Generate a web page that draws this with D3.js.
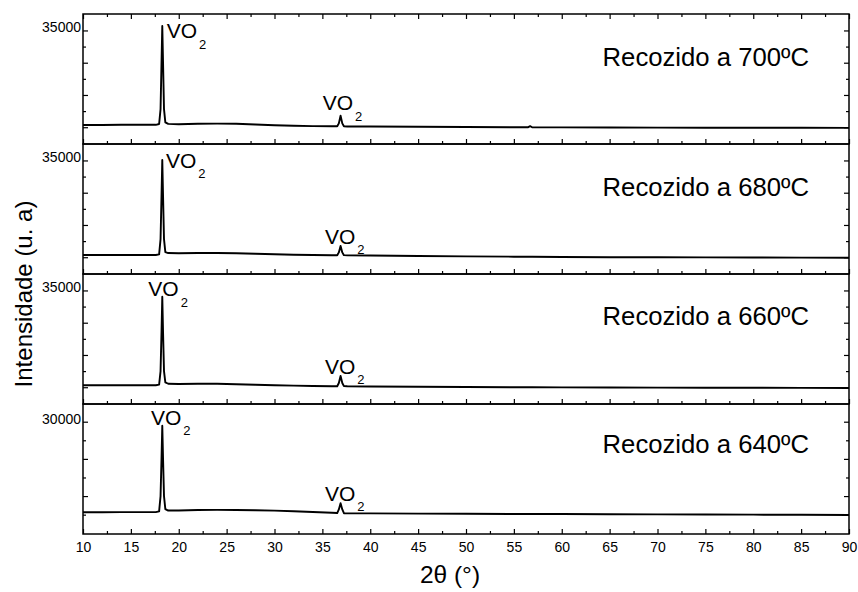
<!DOCTYPE html>
<html>
<head>
<meta charset="utf-8">
<script src="https://cdn.jsdelivr.net/npm/d3@7"></script>
<style>
  body { margin: 0; background: #fff; }
  svg { display: block; }
  text { font-family: Arial, "Liberation Sans", sans-serif; fill: #000; }
</style>
</head>
<body>
<svg id="chart" width="858" height="592"></svg>
<script>
// 2θ positions (degrees) shared by all four diffractograms
const twoTheta = [10, 12, 14, 16, 17.6, 17.95, 18.1, 18.2, 18.28, 18.36, 18.46, 18.6, 18.9,
  20, 22, 24, 26, 28, 30, 32, 34, 36, 36.55, 36.72, 36.9, 37.08, 37.25, 37.6,
  40, 45, 50, 55, 56.5, 56.7, 56.9, 60, 65, 70, 75, 80, 85, 90];

// Intensities (a.u.) for each annealing temperature
const int700 = [20345, 20345, 20376, 20376, 20376, 20500, 22800, 30000, 35690, 30000, 22800, 20750, 20520,
  20469, 20531, 20562, 20531, 20423, 20299, 20221, 20174, 20144, 20144, 20600, 21787, 20600, 20150, 20120,
  20113, 20066, 20035, 20004, 20004, 20160, 20000, 19973, 19958, 19942, 19927, 19911, 19911, 19896];
const int680 = [20345, 20345, 20345, 20345, 20345, 20450, 22800, 29500, 35070, 29500, 22800, 20800, 20650,
  20608, 20655, 20655, 20608, 20531, 20454, 20392, 20345, 20314, 20314, 20750, 21740, 20750, 20320, 20290,
  20268, 20190, 20128, 20082, 20075, 20075, 20070, 20035, 20004, 19989, 19973, 19958, 19942, 19927];
const int660 = [20299, 20299, 20299, 20299, 20299, 20400, 22500, 28500, 34032, 28500, 22500, 20750, 20540,
  20500, 20531, 20531, 20469, 20392, 20314, 20252, 20190, 20159, 20159, 20650, 21740, 20650, 20170, 20150,
  20113, 20066, 20035, 20004, 19995, 19995, 19990, 19973, 19958, 19942, 19927, 19911, 19896, 19880];
const int640 = [17824, 17824, 17840, 17840, 17840, 17950, 20000, 25000, 29464, 25000, 20000, 18250, 18050,
  18050, 18134, 18150, 18134, 18100, 18040, 17950, 17860, 17760, 17720, 18200, 19034, 18200, 17700, 17680,
  17670, 17645, 17620, 17596, 17590, 17590, 17585, 17580, 17560, 17540, 17520, 17500, 17480, 17462];

const seriesValues = [int700, int680, int660, int640];
const panelTitles = ["Recozido a 700ºC", "Recozido a 680ºC", "Recozido a 660ºC", "Recozido a 640ºC"];

// Intensity range shown by each panel
const yDomains = [[17400, 37550], [17400, 37550], [17400, 37550], [14900, 32380]];
const yLabelValues = [35000, 35000, 35000, 30000];
const yMajorTicks = [[20000, 25000, 30000, 35000], [20000, 25000, 30000, 35000],
  [20000, 25000, 30000, 35000], [20000, 25000, 30000]];
const yMinorTicks = [[22500, 27500, 32500], [22500, 27500, 32500],
  [22500, 27500, 32500], [17500, 22500, 27500]];

// Peak annotations: [2θ, intensity] of the text anchor (left end, baseline)
const peakLabels = [
  [[18.74, 33783], [35.03, 22670]],
  [[18.67, 33876], [35.27, 22127]],
  [[16.82, 34140], [35.27, 22127]],
  [[17.10, 29558], [35.27, 19343]]
];
const peakPhase = "VO";
const peakSub = "2";

const xDomain = [10, 90];
const xMajorTicks = [10, 15, 20, 25, 30, 35, 40, 45, 50, 55, 60, 65, 70, 75, 80, 85, 90];
const xMinorTicks = [12.5, 17.5, 22.5, 27.5, 32.5, 37.5, 42.5, 47.5, 52.5, 57.5, 62.5, 67.5, 72.5, 77.5, 82.5, 87.5];

// Layout
const plotLeft = 83, plotRight = 849, plotTop = 14, panelH = 130;
const titleBaseline = [51.5, 51.5, 51, 48.5];

const svg = d3.select("#chart");
const x = d3.scaleLinear().domain(xDomain).range([plotLeft, plotRight]);

seriesValues.forEach((vals, i) => {
  const y0 = plotTop + i * panelH;
  const y = d3.scaleLinear().domain(yDomains[i]).range([y0 + panelH, y0]);
  const g = svg.append("g");

  // Diffractogram trace
  const line = d3.line().x(d => x(d[0])).y(d => y(d[1]));
  g.append("path")
    .datum(twoTheta.map((t, k) => [t, vals[k]]))
    .attr("fill", "none")
    .attr("stroke", "#000")
    .attr("stroke-width", 1.9)
    .attr("stroke-linejoin", "round")
    .attr("d", line);

  // Inward ticks on bottom, left, right (and top of first panel)
  const styleAxis = sel => {
    sel.select(".domain").remove();
    sel.selectAll(".tick line").attr("stroke", "#000").attr("stroke-width", 1.2);
  };
  const bottomY = y0 + panelH;
  g.append("g").attr("transform", `translate(0,${bottomY})`)
    .call(d3.axisBottom(x).tickValues(xMinorTicks).tickSizeInner(-3).tickSizeOuter(0).tickFormat(""))
    .call(styleAxis);
  const bottomMajor = g.append("g").attr("transform", `translate(0,${bottomY})`)
    .call(d3.axisBottom(x).tickValues(xMajorTicks).tickSizeInner(-5).tickSizeOuter(0).tickPadding(8)
      .tickFormat(i === seriesValues.length - 1 ? d3.format("d") : ""))
    .call(styleAxis);
  bottomMajor.selectAll("text").attr("font-size", 14).attr("font-family", null);

  if (i === 0) {
    g.append("g").attr("transform", `translate(0,${y0})`)
      .call(d3.axisTop(x).tickValues(xMinorTicks).tickSizeInner(-3).tickSizeOuter(0).tickFormat(""))
      .call(styleAxis);
    g.append("g").attr("transform", `translate(0,${y0})`)
      .call(d3.axisTop(x).tickValues(xMajorTicks).tickSizeInner(-5).tickSizeOuter(0).tickFormat(""))
      .call(styleAxis);
  }

  g.append("g").attr("transform", `translate(${plotLeft},0)`)
    .call(d3.axisLeft(y).tickValues(yMinorTicks[i]).tickSizeInner(-3).tickSizeOuter(0).tickFormat(""))
    .call(styleAxis);
  const leftMajor = g.append("g").attr("transform", `translate(${plotLeft},0)`)
    .call(d3.axisLeft(y).tickValues(yMajorTicks[i]).tickSizeInner(-5).tickSizeOuter(0).tickPadding(2)
      .tickFormat(v => v === yLabelValues[i] ? String(v) : ""))
    .call(styleAxis);
  leftMajor.selectAll("text").attr("font-size", 14).attr("font-family", null).attr("dy", "0.1em");

  g.append("g").attr("transform", `translate(${plotRight},0)`)
    .call(d3.axisRight(y).tickValues(yMinorTicks[i]).tickSizeInner(-3).tickSizeOuter(0).tickFormat(""))
    .call(styleAxis);
  g.append("g").attr("transform", `translate(${plotRight},0)`)
    .call(d3.axisRight(y).tickValues(yMajorTicks[i]).tickSizeInner(-5).tickSizeOuter(0).tickFormat(""))
    .call(styleAxis);

  // Panel frame
  g.append("rect")
    .attr("x", plotLeft).attr("y", y0)
    .attr("width", plotRight - plotLeft).attr("height", panelH)
    .attr("fill", "none").attr("stroke", "#000").attr("stroke-width", 1.5);

  // Annealing temperature
  g.append("text")
    .attr("x", 809).attr("y", y0 + titleBaseline[i])
    .attr("text-anchor", "end")
    .attr("font-size", 25.7)
    .text(panelTitles[i]);

  // Phase labels at the peaks
  peakLabels[i].forEach(p => {
    const t = g.append("text")
      .attr("x", x(p[0])).attr("y", y(p[1]))
      .attr("font-size", 21);
    t.append("tspan").text(peakPhase);
    t.append("tspan").attr("font-size", 13).attr("dx", 2).attr("dy", 10.5).text(peakSub);
  });
});

// Axis titles
svg.append("text")
  .attr("x", 450).attr("y", 583)
  .attr("text-anchor", "middle")
  .attr("font-size", 24.5)
  .text("2θ (°)");

svg.append("text")
  .attr("transform", "translate(32,294) rotate(-90)")
  .attr("text-anchor", "middle")
  .attr("font-size", 24)
  .text("Intensidade (u. a)");
</script>
</body>
</html>
